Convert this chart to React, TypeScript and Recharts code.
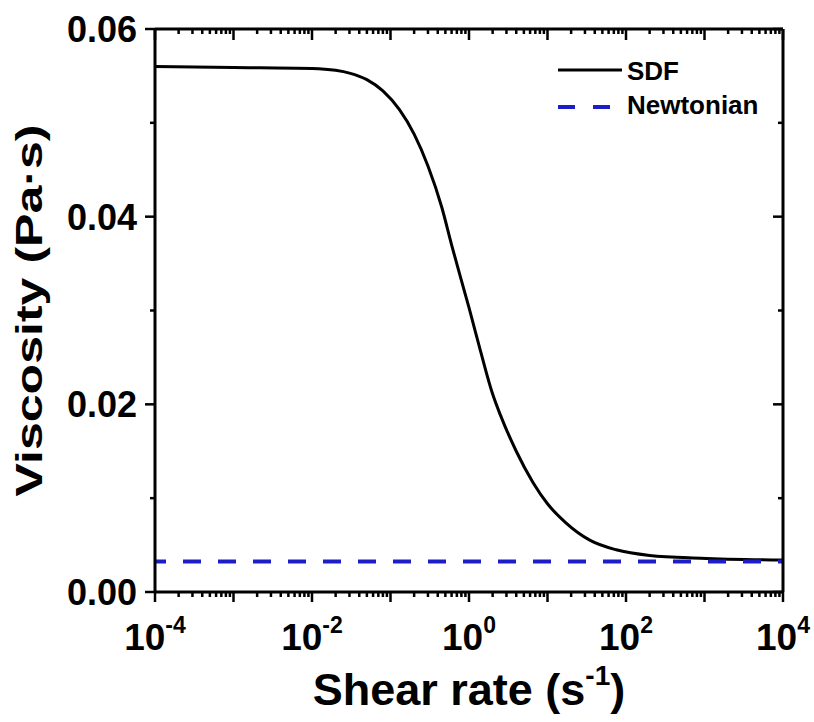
import React from "react";
import { LineChart, Line, XAxis, YAxis, Legend, ReferenceLine } from "recharts";

// ---- data ----
const sdfShearRate = [1e-4, 1e-3, 1e-2, 0.02, 0.03, 0.05, 0.08, 0.13, 0.2, 0.3, 0.45, 0.6, 0.8, 1.0, 1.4, 2.0, 2.5, 4, 6.5, 10, 17, 35, 75, 200, 900, 1e4];
const sdfViscosity = [0.056, 0.0559, 0.0558, 0.0556, 0.0553, 0.0546, 0.0534, 0.0514, 0.0488, 0.0454, 0.041, 0.037, 0.0332, 0.0303, 0.0257, 0.0211, 0.0189, 0.015, 0.0117, 0.0094, 0.0074, 0.0055, 0.0045, 0.0039, 0.0036, 0.0034];
const newtonianShearRate = [1e-4, 1e4];
const newtonianViscosity = [0.00325, 0.00325];
const legendOrder = ["SDF", "Newtonian"];

const xDecades = [1e-4, 1e-3, 1e-2, 1e-1, 1, 10, 100, 1000, 1e4];
const xLabelExponents = [-4, -2, 0, 2, 4];
const xMinorMultipliers = [2, 3, 4, 5, 6, 7, 8, 9];
const yTicks = [0, 0.01, 0.02, 0.03, 0.04, 0.05, 0.06];
const yLabeledTicks = [0, 0.02, 0.04, 0.06];
const yMax = 0.06;

const sdfData = sdfShearRate.map((x, i) => ({ x, y: sdfViscosity[i] }));
const newtonianData = newtonianShearRate.map((x, i) => ({ x, y: newtonianViscosity[i] }));

const xMinorTicks: number[] = [];
xDecades.forEach((d, i) => {
  if (i < xDecades.length - 1) xMinorMultipliers.forEach((m) => xMinorTicks.push(m * d));
});
const xTicks: number[] = [...xDecades, ...xMinorTicks].sort((a, b) => a - b);

const MARGIN = { top: 29, right: 30, bottom: 129, left: 154 };
const FONT = "'Liberation Sans', Arial, Helvetica, sans-serif";
const FRAME = { stroke: "#000", strokeWidth: 3 };

const decadeExp = (v: number) => {
  const e = Math.log10(v);
  const r = Math.round(e);
  return Math.abs(e - r) < 1e-6 ? r : null;
};

// bottom tick (outward) + matching inward tick on the top frame
const BottomTick = (props: any) => {
  const { x, y, payload } = props;
  const e = decadeExp(payload.value);
  const major = e !== null;
  const len = major ? 10 : 5;
  const topLen = major ? 11 : 5;
  return (
    <g>
      <line x1={x} x2={x} y1={y} y2={y + len} stroke="#000" strokeWidth={2.5} />
      <line x1={x} x2={x} y1={MARGIN.top} y2={MARGIN.top + topLen} stroke="#000" strokeWidth={2.5} />
      {major && xLabelExponents.includes(e as number) && (
        <text x={x} y={y + 58} textAnchor="middle" fontFamily={FONT} fontWeight="bold" fontSize={37} fill="#000">
          10
          <tspan dy={-17} fontSize={23}>{String(e)}</tspan>
        </text>
      )}
    </g>
  );
};

const LeftTick = (props: any) => {
  const { x, y, payload } = props;
  const v = payload.value as number;
  const major = yLabeledTicks.some((t) => Math.abs(t - v) < 1e-9);
  const len = major ? 10 : 5;
  return (
    <g>
      <line x1={x} x2={x - len} y1={y} y2={y} stroke="#000" strokeWidth={2.5} />
      {major && (
        <text x={x - 18} y={y} dy="0.36em" textAnchor="end" fontFamily={FONT} fontWeight="bold" fontSize={36} fill="#000">
          {v.toFixed(2)}
        </text>
      )}
    </g>
  );
};

const RightTick = (props: any) => {
  const { x, y, payload } = props;
  const v = payload.value as number;
  const major = yLabeledTicks.some((t) => Math.abs(t - v) < 1e-9);
  const len = major ? 10 : 5;
  return <line x1={x} x2={x - len} y1={y} y2={y} stroke="#000" strokeWidth={2.5} />;
};

const LegendContent = (props: any) => {
  const items = [...(props.payload || [])].sort(
    (a: any, b: any) => legendOrder.indexOf(a.value) - legendOrder.indexOf(b.value)
  );
  return (
    <div style={{ fontFamily: FONT, fontWeight: "bold", fontSize: 26, color: "#000" }}>
      {items.map((p: any, i: number) => {
        const dashed = p.value === "Newtonian";
        return (
          <div key={i} style={{ display: "flex", alignItems: "center", height: 34, lineHeight: "34px" }}>
            <svg width={66} height={14} style={{ display: "block" }}>
              <line
                x1={0}
                x2={64}
                y1={dashed ? 9 : 6}
                y2={dashed ? 9 : 6}
                stroke={p.color}
                strokeWidth={dashed ? 4 : 3}
                strokeDasharray={dashed ? "17 18" : undefined}
              />
            </svg>
            <span style={{ marginLeft: 3 }}>{p.value}</span>
          </div>
        );
      })}
    </div>
  );
};

const YTitle = (props: any) => {
  const { viewBox } = props;
  const x = viewBox.x + viewBox.width - 113;
  const y = viewBox.y + viewBox.height / 2;
  return (
    <text
      x={x}
      y={y}
      transform={`rotate(-90, ${x}, ${y})`}
      textAnchor="middle"
      fontFamily={FONT}
      fontWeight="bold"
      fontSize={36}
      textLength={372}
      lengthAdjust="spacingAndGlyphs"
      fill="#000"
    >
      Viscosity (Pa·s)
    </text>
  );
};

const XTitle = (props: any) => {
  const { viewBox } = props;
  const x = viewBox.x + viewBox.width / 2;
  const y = viewBox.y + 113;
  return (
    <text x={x} y={y} textAnchor="middle" fontFamily={FONT} fontWeight="bold" fontSize={45} fill="#000">
      Shear rate (s
      <tspan dy={-20} fontSize={28}>-1</tspan>
      <tspan dy={20}>)</tspan>
    </text>
  );
};

export default function App() {
  return (
    <div style={{ position: "absolute", left: 0, top: 0, width: 814, height: 722, background: "#fff" }}>
      <LineChart width={814} height={722} margin={MARGIN}>
        <XAxis
          xAxisId={0}
          dataKey="x"
          type="number"
          scale="log"
          domain={[1e-4, 1e4]}
          allowDataOverflow
          ticks={xTicks}
          interval={0}
          tick={<BottomTick />}
          tickLine={false}
          tickSize={0}
          tickMargin={0}
          height={1}
          axisLine={FRAME}
          label={<XTitle />}
        />
        <YAxis
          yAxisId={0}
          type="number"
          domain={[0, yMax]}
          allowDataOverflow
          ticks={yTicks}
          interval={0}
          tick={<LeftTick />}
          tickLine={false}
          tickSize={0}
          tickMargin={0}
          width={1}
          axisLine={FRAME}
          label={<YTitle />}
        />
        <YAxis
          yAxisId="right"
          orientation="right"
          type="number"
          domain={[0, yMax]}
          allowDataOverflow
          ticks={yTicks}
          interval={0}
          tick={<RightTick />}
          tickLine={false}
          tickSize={0}
          tickMargin={0}
          width={1}
          axisLine={FRAME}
        />
        <ReferenceLine y={yMax} stroke="#000" strokeWidth={3} ifOverflow="visible" />
        <Line
          data={sdfData}
          dataKey="y"
          name="SDF"
          type="monotone"
          stroke="#000"
          strokeWidth={3}
          dot={false}
          activeDot={false}
          isAnimationActive={false}
        />
        <Line
          data={newtonianData}
          dataKey="y"
          name="Newtonian"
          type="linear"
          stroke="#1e1ec8"
          strokeWidth={4}
          strokeDasharray="18 17"
          strokeDashoffset={7}
          dot={false}
          activeDot={false}
          isAnimationActive={false}
        />
        <Legend
          layout="horizontal"
          verticalAlign="middle"
          align="center"
          content={<LegendContent />}
          wrapperStyle={{ left: 558, top: 54, width: 230, height: "auto" }}
        />
      </LineChart>
    </div>
  );
}
